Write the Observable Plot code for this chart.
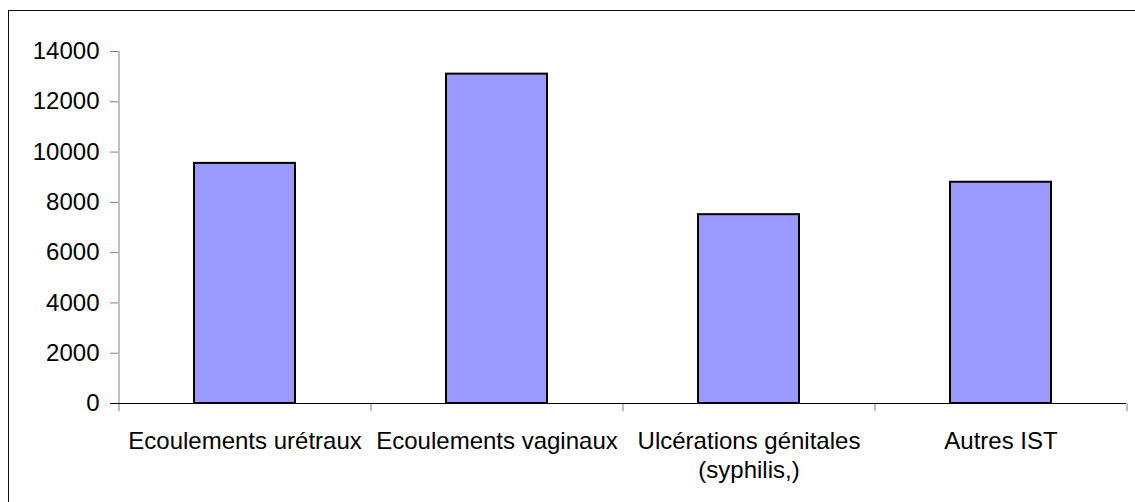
<!DOCTYPE html>
<html>
<head>
<meta charset="utf-8">
<script src="https://cdn.jsdelivr.net/npm/d3@7"></script>
<script src="https://cdn.jsdelivr.net/npm/@observablehq/plot@0.6"></script>
<style>
  html, body { margin: 0; padding: 0; overflow: hidden; background: #fff; }
  #wrap { position: relative; width: 1135px; height: 502px; overflow: hidden; }
  #border { position: absolute; left: 8px; top: 10px; width: 1200px; height: 600px; border: 1px solid #111; box-sizing: border-box; pointer-events: none; }
  #chart { position: absolute; left: 0; top: 0; }
</style>
</head>
<body>
<div id="wrap"><div id="chart"></div><div id="border"></div></div>
<script>
const categories = ["Ecoulements urétraux", "Ecoulements vaginaux", "Ulcérations génitales (syphilis,)", "Autres IST"];
const values = [9550, 13100, 7510, 8800];
const tickLabels = ["Ecoulements urétraux", "Ecoulements vaginaux", "Ulcérations génitales\n(syphilis,)", "Autres IST"];
const yTicks = [0, 2000, 4000, 6000, 8000, 10000, 12000, 14000];

const data = categories.map((c, i) => ({cat: c, value: values[i]}));

const width = 1135, height = 502;
const marginLeft = 118, marginRight = 9, marginTop = 51, marginBottom = 99;
const step = (width - marginLeft - marginRight) / categories.length;
const fontSize = 24;
const gray = "#808080";

const chart = Plot.plot({
  width, height, marginLeft, marginRight, marginTop, marginBottom,
  style: {fontFamily: "'Liberation Sans', Arial, sans-serif", fontSize: fontSize + "px", color: "#000", background: "transparent"},
  x: {domain: categories, paddingInner: 0.6, paddingOuter: 0.3, axis: null, label: null},
  y: {domain: [0, 14000], axis: null, label: null},
  marks: [
    Plot.barY(data, {x: "cat", y: "value", fill: "#9999FF", stroke: "#000", strokeWidth: 2}),
    // y axis line
    Plot.ruleX([categories[0]], {x: d => d, dx: -step / 2, y1: 0, y2: 14000, stroke: gray, strokeWidth: 1}),
    // x category boundary ticks
    Plot.ruleX(categories, {x: d => d, dx: -step / 2, y1: 0, y2: 0, insetBottom: -8, stroke: gray, strokeWidth: 1}),
    Plot.ruleX([categories[categories.length - 1]], {x: d => d, dx: step / 2, y1: 0, y2: 0, insetBottom: -8, stroke: gray, strokeWidth: 1}),
    // y ticks
    Plot.axisY({ticks: yTicks, tickSize: 8, stroke: gray, text: null, label: null}),
    Plot.axisY({ticks: yTicks, tickSize: 0, tickPadding: 19, fontSize, fill: "#000", label: null, tickFormat: d => String(d)}),
    // x axis line
    Plot.ruleY([0], {insetLeft: -8, stroke: "#000", strokeWidth: 1}),
    // x labels
    Plot.axisX({tickSize: 0, tickPadding: 25, fontSize, fill: "#000", lineHeight: 1.21, label: null, tickFormat: d => tickLabels[categories.indexOf(d)]})
  ]
});
document.getElementById("chart").appendChild(chart);
</script>
</body>
</html>
